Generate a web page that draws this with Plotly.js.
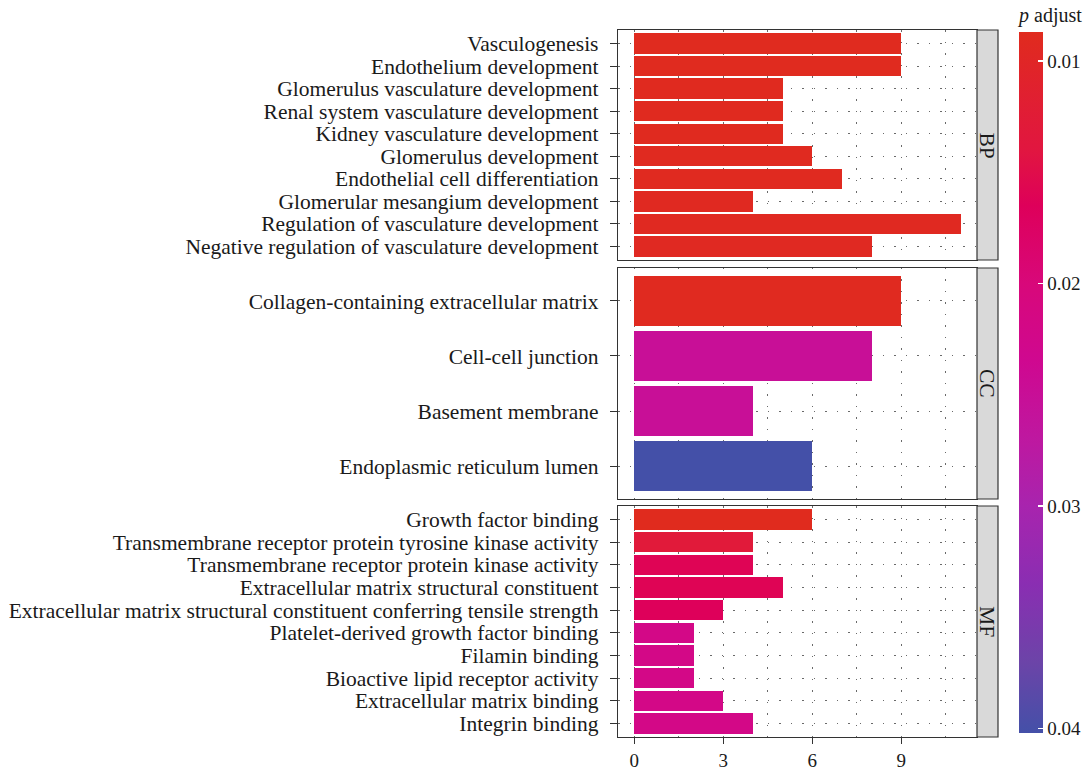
<!DOCTYPE html>
<html>
<head>
<meta charset="utf-8">
<script src="https://cdn.plot.ly/plotly-3.0.1.min.js"></script>
<style>html,body{margin:0;padding:0;background:#fff;}#chart{width:1092px;height:771px;}</style>
</head>
<body>
<div id="chart"></div>
<script>
// ---- Data ----
const bpTerms = ["Vasculogenesis","Endothelium development","Glomerulus vasculature development","Renal system vasculature development","Kidney vasculature development","Glomerulus development","Endothelial cell differentiation","Glomerular mesangium development","Regulation of vasculature development","Negative regulation of vasculature development"];
const bpCounts = [9,9,5,5,5,6,7,4,11,8];
const bpPadj = [0.0088,0.0088,0.0089,0.0089,0.0089,0.0090,0.0090,0.0091,0.0092,0.0093];

const ccTerms = ["Collagen-containing extracellular matrix","Cell-cell junction","Basement membrane","Endoplasmic reticulum lumen"];
const ccCounts = [9,8,4,6];
const ccPadj = [0.0090,0.0250,0.0250,0.0402];

const mfTerms = ["Growth factor binding","Transmembrane receptor protein tyrosine kinase activity","Transmembrane receptor protein kinase activity","Extracellular matrix structural constituent","Extracellular matrix structural constituent conferring tensile strength","Platelet-derived growth factor binding","Filamin binding","Bioactive lipid receptor activity","Extracellular matrix binding","Integrin binding"];
const mfCounts = [6,4,4,5,3,2,2,2,3,4];
const mfPadj = [0.0087,0.0130,0.0160,0.0160,0.0165,0.0220,0.0220,0.0220,0.0220,0.0220];

const facetNames = ["BP","CC","MF"];
const countTicks = [0,3,6,9];
const colorTickVals = [0.01,0.02,0.03,0.04];

// ---- Styling ----
const FONT = "Liberation Serif, Times New Roman, serif";
const FS = 21.5;
const TXT = "#1a1a1a";
const GRID = "#6a6a6a";
const DASH = "1.5px,10px";
const allP = bpPadj.concat(ccPadj, mfPadj);
const pMin = Math.min(...allP), pMax = Math.max(...allP);
const stops = [[0.0087,"#E02B1E"],[0.0140,"#E11640"],[0.0165,"#DE005A"],[0.0200,"#D8087A"],[0.0235,"#CF0890"],[0.0270,"#BE18A0"],[0.0300,"#A824AE"],[0.0335,"#8A2EB2"],[0.0370,"#6C44A8"],[0.0402,"#4450A8"]];
const colorscale = stops.map(s => [Math.min(1,Math.max(0,(pMax - s[0])/(pMax - pMin))), s[1]]).sort((a,b)=>a[0]-b[0]);
colorscale[0][0]=0; colorscale[colorscale.length-1][0]=1;

const panels = [
  {terms: bpTerms, counts: bpCounts, p: bpPadj},
  {terms: ccTerms, counts: ccCounts, p: ccPadj},
  {terms: mfTerms, counts: mfCounts, p: mfPadj}
];
// plot area x 618..977, y 30..737
const domains = [[0.6747,1],[0.3366,0.6634],[0,0.3267]];

const traces = panels.map((pn,i) => ({
  type: "bar",
  orientation: "h",
  x: pn.counts,
  y: pn.terms,
  width: 0.9,
  xaxis: i===0 ? "x" : "x"+(i+1),
  yaxis: i===0 ? "y" : "y"+(i+1),
  marker: {color: pn.p.map(v => -v), coloraxis: "coloraxis", line: {width: 0}},
  hoverinfo: "x+y"
}));

const layout = {
  width: 1092, height: 771,
  margin: {l: 618, r: 115, t: 30, b: 34, autoexpand: false},
  paper_bgcolor: "#fff", plot_bgcolor: "#fff",
  font: {family: FONT, size: FS, color: TXT},
  showlegend: false,
  bargap: 0,
  coloraxis: {
    cmin: -pMax, cmax: -pMin,
    colorscale: colorscale,
    colorbar: {
      x: 1.117, xanchor: "left", xref: "paper",
      y: 1.0368, yanchor: "top", yref: "paper",
      len: 729, lenmode: "pixels",
      thickness: 24, thicknessmode: "pixels",
      outlinewidth: 0, xpad: 0, ypad: 0,
      tickvals: colorTickVals.map(v => -v),
      ticktext: colorTickVals.map(v => v.toFixed(2)),
      ticks: "inside", ticklen: 5, tickcolor: "#ffffff", tickwidth: 1.2,
      tickfont: {family: FONT, size: 19, color: TXT},
      title: {text: "<i>p</i> adjust", side: "top", font: {family: FONT, size: 20, color: TXT}}
    }
  },
  shapes: [], annotations: []
};

panels.forEach((pn,i) => {
  const xa = i===0 ? "xaxis" : "xaxis"+(i+1);
  const ya = i===0 ? "yaxis" : "yaxis"+(i+1);
  const yname = i===0 ? "y" : "y"+(i+1);
  layout[xa] = {
    domain: [0,1], anchor: yname,
    range: [-0.55, 11.55],
    tickmode: "array", tickvals: countTicks,
    showticklabels: i===2,
    ticks: i===2 ? "outside" : "", ticklen: 6, tickcolor: "#333",
    ticklabelstandoff: 0,
    tickfont: {family: FONT, size: 19, color: TXT},
    showgrid: true, gridcolor: GRID, gridwidth: 1, griddash: DASH,
    minor: {dtick: 1.5, tick0: 0, showgrid: true, gridcolor: GRID, gridwidth: 1, griddash: DASH},
    zeroline: false,
    showline: true, mirror: true, linecolor: "#333", linewidth: 1.2
  };
  if (i>0) layout[xa].matches = "x";
  layout[ya] = {
    domain: domains[i], anchor: i===0 ? "x" : "x"+(i+1),
    type: "category",
    categoryorder: "array", categoryarray: pn.terms,
    tickmode: "array", tickvals: pn.terms, ticktext: pn.terms,
    range: [pn.terms.length - 0.4, -0.6],
    ticks: "outside", ticklen: 7, tickcolor: "#333",
    ticklabelstandoff: 7,
    tickfont: {family: FONT, size: FS, color: TXT},
    showgrid: true, gridcolor: GRID, gridwidth: 1, griddash: DASH,
    zeroline: false,
    showline: true, mirror: true, linecolor: "#333", linewidth: 1.2
  };
  layout.shapes.push({
    type: "rect", xref: "paper", yref: "paper",
    x0: 1, x1: 1.0585, y0: domains[i][0], y1: domains[i][1],
    fillcolor: "#D9D9D9", line: {color: "#333", width: 1.2}
  });
  layout.annotations.push({
    xref: "paper", yref: "paper",
    x: 1.02925, y: (domains[i][0]+domains[i][1])/2,
    text: facetNames[i], textangle: 90, showarrow: false,
    font: {family: FONT, size: FS, color: TXT},
    xanchor: "center", yanchor: "middle"
  });
});

Plotly.newPlot("chart", traces, layout, {displayModeBar: false, staticPlot: true});
</script>
</body>
</html>
